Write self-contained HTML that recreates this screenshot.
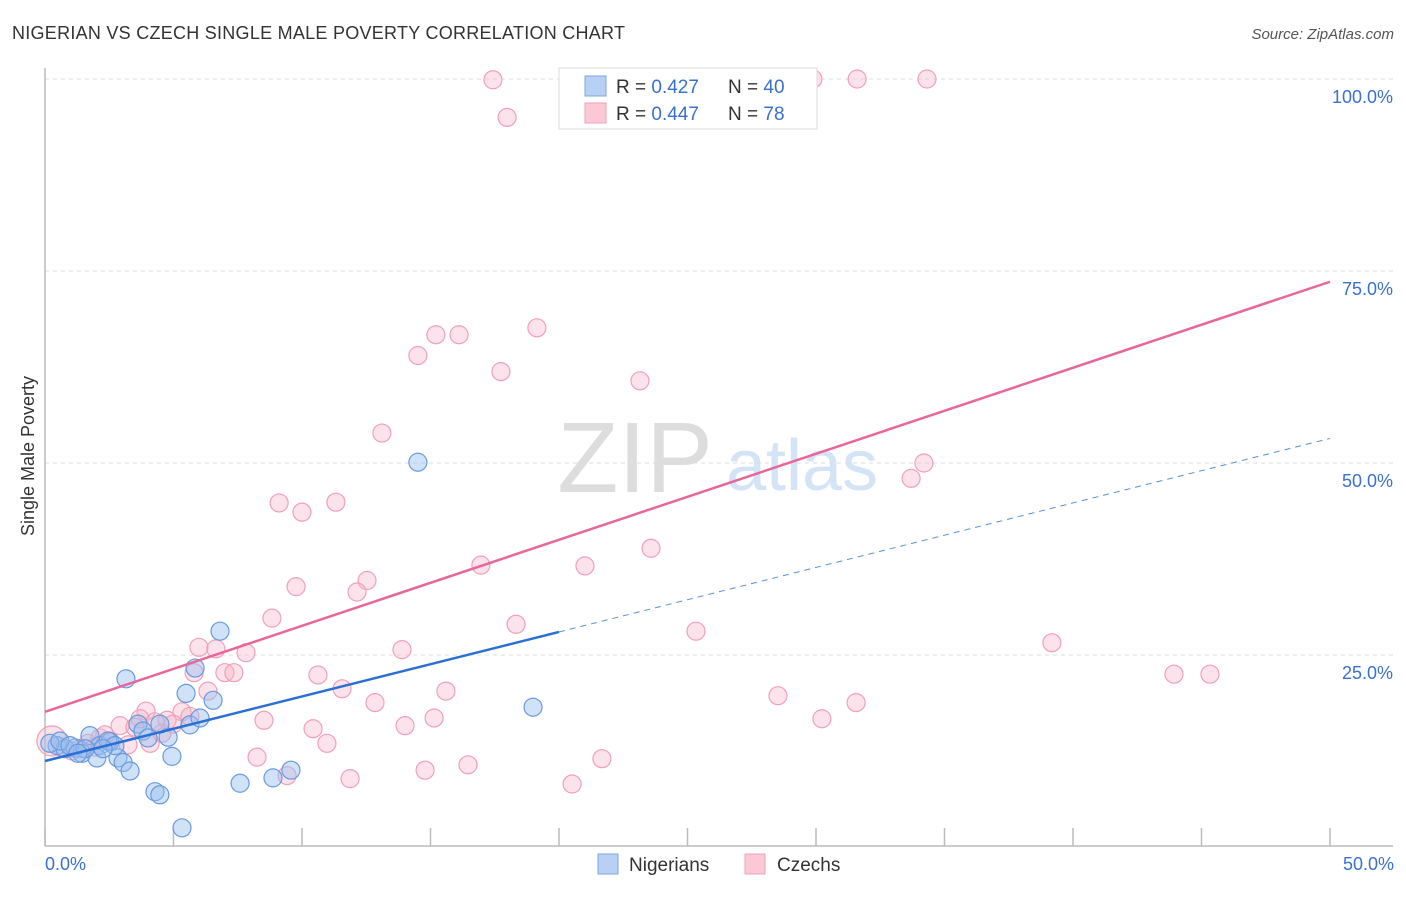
<!DOCTYPE html>
<html><head><meta charset="utf-8">
<style>
body{margin:0;background:#fff;font-family:"Liberation Sans",sans-serif;}
svg text{font-family:"Liberation Sans",sans-serif;}
</style></head>
<body>
<svg id="chart" width="1406" height="892" xmlns="http://www.w3.org/2000/svg">
<text x="12" y="39" font-size="18" fill="#333" textLength="613">NIGERIAN VS CZECH SINGLE MALE POVERTY CORRELATION CHART</text>
<text x="1394" y="39" font-size="15" fill="#555" font-style="italic" text-anchor="end">Source: ZipAtlas.com</text>
<g>
<text x="635" y="492" font-size="100" fill="#ddd" text-anchor="middle" font-family="Liberation Serif">ZIP</text>
<text x="802" y="490" font-size="72" fill="#d4e4f6" text-anchor="middle">atlas</text>
</g>
<g id="grid"></g>
<g id="axes"></g>
<g id="points"></g>
<g id="lines"></g>
<text transform="translate(34,456) rotate(-90)" font-size="18" fill="#333" text-anchor="middle">Single Male Poverty</text>
<text x="45" y="870" font-size="18" fill="#3a70d0">0.0%</text>
<text x="1394" y="870" font-size="18" fill="#3a70d0" text-anchor="end">50.0%</text>
<g>
<rect x="559" y="68" width="258" height="61" fill="#fff" stroke="#ddd"/>
<rect x="585" y="76" width="21" height="20" fill="#b8d0f4" stroke="#7fa6e0"/>
<rect x="585" y="103" width="21" height="20" fill="#fbc8d6" stroke="#f0a0b8"/>
<text x="616" y="93" font-size="19" fill="#333">R = <tspan fill="#3a70d0">0.427</tspan></text>
<text x="728" y="93" font-size="19" fill="#333">N = <tspan fill="#3a70d0">40</tspan></text>
<text x="616" y="120" font-size="19" fill="#333">R = <tspan fill="#3a70d0">0.447</tspan></text>
<text x="728" y="120" font-size="19" fill="#333">N = <tspan fill="#3a70d0"> 78</tspan></text>
</g>
<g>
<rect x="598" y="854" width="20" height="20" fill="#b8d0f4" stroke="#7fa6e0"/>
<text x="629" y="871" font-size="19" fill="#333">Nigerians</text>
<rect x="745" y="854" width="20" height="20" fill="#fbc8d6" stroke="#f0a0b8"/>
<text x="777" y="871" font-size="19" fill="#333">Czechs</text>
</g>
</svg>
<script>
const yTicks=[25,50,75,100];
const yTickLabels=["25.0%","50.0%","75.0%","100.0%"];
const xTicks=[0,5,10,15,20,25,30,35,40,45,50];
const nigerianX=[0.47,0.78,1.17,1.44,1.75,2.14,2.53,2.02,2.84,3.04,3.31,3.15,3.62,3.81,4.01,4.28,4.47,4.79,4.94,5.33,5.49,5.64,5.84,6.03,6.54,6.81,7.59,8.87,9.57,14.51,18.99,0.19,0.58,0.97,1.56,2.45,4.47,2.72,2.26,1.28];
const nigerianY=[13.2,12.8,12.9,12.2,14.5,13.2,13.7,11.6,11.6,11.0,9.9,21.9,16.0,15.1,14.2,7.2,6.8,14.3,11.8,2.5,20.0,15.9,23.3,16.8,19.1,28.1,8.3,9.0,10.0,50.1,18.2,13.5,13.8,13.2,12.8,13.8,16.0,13.2,12.8,12.2];
const czechX=[17.43,17.98,25.72,29.88,31.60,34.32,19.14,15.21,16.11,14.51,17.74,23.15,13.11,34.20,33.70,9.11,10.00,11.32,23.58,16.96,21.01,9.77,12.53,12.14,8.83,18.33,25.33,39.18,43.93,45.33,5.99,6.65,7.82,5.80,7.00,7.35,13.89,6.34,10.62,11.56,15.60,28.52,31.56,12.84,8.52,15.14,14.01,30.23,10.43,10.97,3.93,5.33,4.75,4.98,2.92,3.70,8.25,14.79,16.46,11.87,9.42,20.51,21.67,0.27,0.66,1.05,1.67,2.14,2.53,3.23,4.09,4.55,1.36,1.95,2.33,3.50,4.28,5.64];
const czechY=[99.9,95.0,100.0,100.0,100.0,100.0,67.6,66.7,66.7,64.0,61.9,60.7,53.9,50.0,48.0,44.8,43.6,44.9,38.9,36.7,36.6,33.9,34.7,33.2,29.8,29.0,28.1,26.6,22.5,22.5,26.0,25.8,25.3,22.7,22.7,22.7,25.7,20.3,22.4,20.6,20.3,19.7,18.8,18.8,16.5,16.8,15.8,16.7,15.4,13.5,17.7,17.6,16.5,16.0,15.8,16.7,11.7,10.0,10.7,8.9,9.3,8.2,11.5,13.8,13.0,12.5,13.5,14.2,13.8,13.3,13.5,14.8,12.8,13.0,14.6,15.6,16.3,17.0];
const nigerianLine=[11.2,53.2]; // y at x=0 and x=50
const nigerianSolidEnd=20;
const czechLine=[17.6,73.6];
const X0=45,X1=1330,Y0=847,YS=7.68;
const sx=v=>X0+(v/50)*(X1-X0);
const sy=v=>Y0-v*YS;
const NS="http://www.w3.org/2000/svg";
function mk(tag,attrs,parent){const e=document.createElementNS(NS,tag);for(const k in attrs)e.setAttribute(k,attrs[k]);document.getElementById(parent).appendChild(e);return e;}
yTicks.forEach((t,i)=>{
 const l=mk('line',{x1:X0,x2:1393,y1:sy(t),y2:sy(t),stroke:'#ddd','stroke-dasharray':'4,4'},'grid');
 
 
 const tx=mk('text',{x:1393,y:sy(t)+24,'font-size':18,fill:'#3a70d0','text-anchor':'end'},'grid');
 tx.textContent=yTickLabels[i];
 
 
});
let a=mk('line',{x1:X0,x2:X0,y1:68,y2:846,stroke:'#bbb','stroke-width':1.5},'axes');


a=mk('line',{x1:X0,x2:1393,y1:846,y2:846,stroke:'#bbb','stroke-width':1.5},'axes');


xTicks.forEach(t=>{
 const l=mk('line',{x1:sx(t),x2:sx(t),y1:828,y2:846,stroke:'#bbb','stroke-width':1.5},'axes');
 
 
});
czechX.forEach((x,i)=>{
 const c=mk('circle',{cx:sx(x),cy:sy(czechY[i]),r:i==63?15:9,fill:'rgba(248,182,202,0.4)',stroke:'#f0a0b8','stroke-width':1.2},'points');
 
 
});
nigerianX.forEach((x,i)=>{
 const c=mk('circle',{cx:sx(x),cy:sy(nigerianY[i]),r:9,fill:'rgba(150,190,240,0.45)',stroke:'#6a9ade','stroke-width':1.2},'points');
 
 
});
const by=x=>nigerianLine[0]+(nigerianLine[1]-nigerianLine[0])*x/50;
let ln=mk('line',{x1:sx(0),y1:sy(by(0)),x2:sx(nigerianSolidEnd),y2:sy(by(nigerianSolidEnd)),stroke:'#2a6fd6','stroke-width':2.5},'lines');


ln=mk('line',{x1:sx(nigerianSolidEnd),y1:sy(by(nigerianSolidEnd)),x2:sx(50),y2:sy(by(50)),stroke:'#5b8fd8','stroke-width':1,'stroke-dasharray':'6,5'},'lines');


ln=mk('line',{x1:sx(0),y1:sy(czechLine[0]),x2:sx(50),y2:sy(czechLine[1]),stroke:'#e8679a','stroke-width':2.5},'lines');


</script>
</body></html>
